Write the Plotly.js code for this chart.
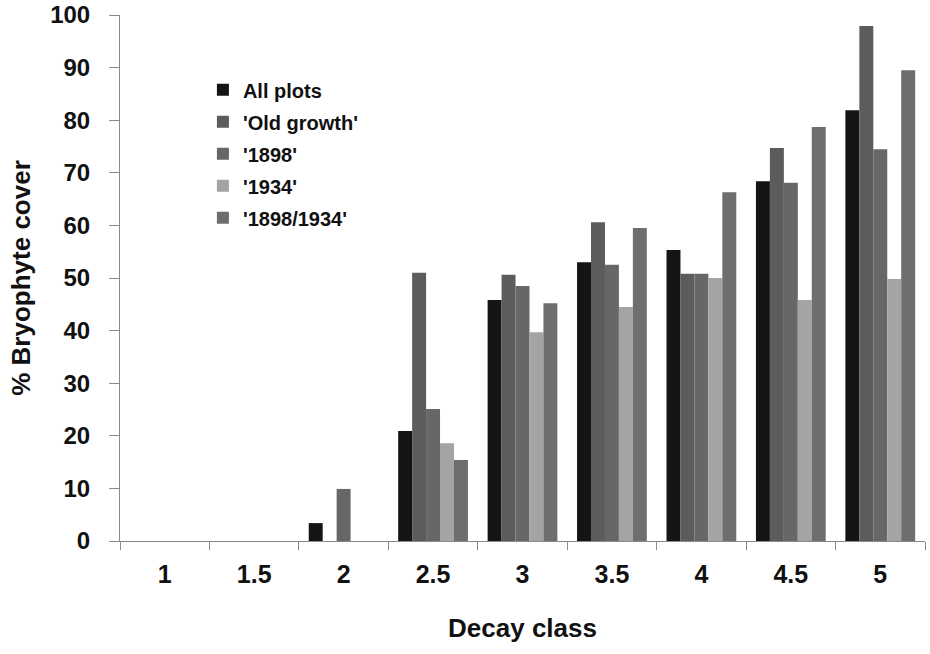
<!DOCTYPE html>
<html>
<head>
<meta charset="utf-8">
<script src="https://cdn.plot.ly/plotly-3.0.1.min.js"></script>
<style>html,body{margin:0;padding:0;background:#fff;}#chart{width:930px;height:654px;}</style>
</head>
<body>
<div id="chart"></div>
<script>
var categories = ['1', '1.5', '2', '2.5', '3', '3.5', '4', '4.5', '5'];
var allPlots   = [0, 0, 3.4, 20.9, 45.8, 53.0, 55.3, 68.4, 81.9];
var oldGrowth  = [0, 0, 0, 51.0, 50.6, 60.6, 50.8, 74.7, 97.9];
var s1898      = [0, 0, 9.9, 25.1, 48.5, 52.5, 50.8, 68.1, 74.5];
var s1934      = [0, 0, 0, 18.6, 39.7, 44.5, 50.0, 45.8, 49.8];
var s18981934  = [0, 0, 0, 15.4, 45.2, 59.5, 66.3, 78.7, 89.5];
var seriesNames = ['All plots', "'Old growth'", "'1898'", "'1934'", "'1898/1934'"];
var yTicks = [0, 10, 20, 30, 40, 50, 60, 70, 80, 90, 100];

var seriesData = [allPlots, oldGrowth, s1898, s1934, s18981934];
var colors = ['#141414', '#5c5c5c', '#676767', '#a4a4a4', '#6e6e6e'];

var traces = seriesData.map(function (vals, i) {
  return {
    type: 'bar',
    x: categories,
    y: vals,
    name: seriesNames[i],
    legendgroup: 'g' + i,
    marker: { color: colors[i], line: { width: 0 } }
  };
});

var FONT = 'Liberation Sans, Arial, sans-serif';

var layout = {
  width: 930,
  height: 654,
  margin: { l: 120, r: 5, t: 15, b: 113 },
  paper_bgcolor: '#ffffff',
  plot_bgcolor: '#ffffff',
  barmode: 'group',
  bargap: 0.22,
  bargroupgap: 0,
  font: { family: FONT, color: '#111', size: 18 },
  showlegend: true,
  legend: {
    x: 0.103, y: 0.895, xanchor: 'left', yanchor: 'top',
    bgcolor: 'rgba(0,0,0,0)',
    font: { family: FONT, size: 20, color: '#111', weight: 'bold' },
    traceorder: 'grouped',
    tracegroupgap: 3
  },
  xaxis: {
    type: 'category',
    showgrid: false,
    zeroline: false,
    showline: true,
    linecolor: '#8a8a8a',
    linewidth: 1,
    ticks: 'outside',
    tickson: 'boundaries',
    ticklen: 8,
    tickcolor: '#8a8a8a',
    ticklabelstandoff: 11,
    tickfont: { family: FONT, size: 25, color: '#111', weight: 'bold' },
    title: { text: 'Decay class', standoff: 31,
      font: { family: FONT, size: 26, color: '#111', weight: 'bold' } }
  },
  yaxis: {
    range: [0, 100],
    tickvals: yTicks,
    ticktext: yTicks.map(String),
    showgrid: false,
    zeroline: false,
    showline: true,
    linecolor: '#8a8a8a',
    linewidth: 1,
    ticks: 'outside',
    ticklen: 10,
    tickcolor: '#8a8a8a',
    ticklabelstandoff: 14,
    tickfont: { family: FONT, size: 24, color: '#111', weight: 'bold' },
    title: { text: '% Bryophyte cover', standoff: 12,
      font: { family: FONT, size: 26, color: '#111', weight: 'bold' } }
  }
};

Plotly.newPlot('chart', traces, layout, { displayModeBar: false, staticPlot: true });
</script>
</body>
</html>
